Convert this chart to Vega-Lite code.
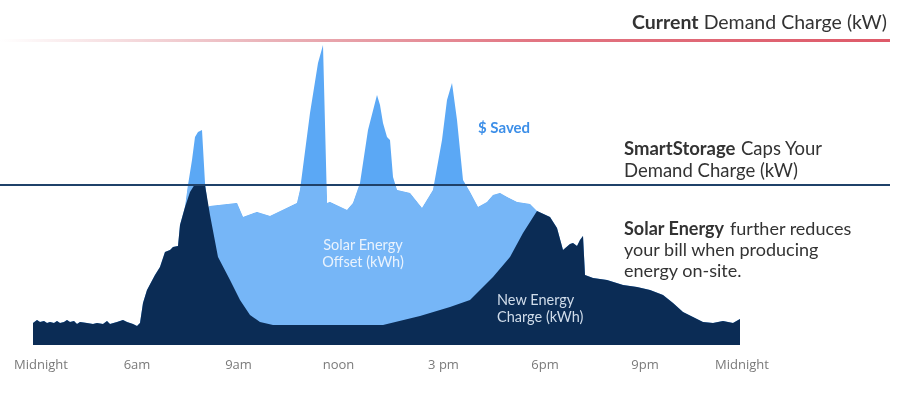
{
  "$schema": "https://vega.github.io/schema/vega-lite/v6.json",
  "width": 903,
  "height": 397,
  "padding": 0,
  "autosize": "none",
  "background": "white",
  "config": {"view": {"stroke": null}},
  "datasets": {
    "net": [
      {"t":0.33,"kw":22},{"t":0.37,"kw":25},{"t":0.40,"kw":23},{"t":0.44,"kw":24},{"t":0.47,"kw":22},{"t":0.50,"kw":23},{"t":0.54,"kw":22},{"t":0.57,"kw":24},{"t":0.60,"kw":22},{"t":0.64,"kw":23},{"t":0.67,"kw":25},{"t":0.70,"kw":23},{"t":0.74,"kw":24},{"t":0.77,"kw":21},{"t":0.80,"kw":23},{"t":0.87,"kw":22},{"t":0.93,"kw":21},{"t":0.97,"kw":22},{"t":1.03,"kw":21},{"t":1.07,"kw":24},{"t":1.10,"kw":21},{"t":1.17,"kw":23},{"t":1.23,"kw":25},{"t":1.27,"kw":23},{"t":1.33,"kw":21},{"t":1.37,"kw":19},{"t":1.40,"kw":22},{"t":1.43,"kw":42},{"t":1.47,"kw":55},{"t":1.55,"kw":70},{"t":1.60,"kw":78},{"t":1.65,"kw":93},{"t":1.70,"kw":95},{"t":1.73,"kw":98},{"t":1.78,"kw":99},{"t":1.80,"kw":120},{"t":1.85,"kw":138},{"t":1.90,"kw":153},{"t":1.95,"kw":161},{"t":2.00,"kw":161},{"t":2.05,"kw":160},{"t":2.10,"kw":130},{"t":2.18,"kw":88},{"t":2.30,"kw":65},{"t":2.40,"kw":45},{"t":2.50,"kw":30},{"t":2.60,"kw":23},{"t":2.73,"kw":20},{"t":3.00,"kw":20},{"t":3.83,"kw":20},{"t":4.20,"kw":29},{"t":4.50,"kw":38},{"t":4.70,"kw":45},{"t":4.93,"kw":68},{"t":5.10,"kw":88},{"t":5.23,"kw":112},{"t":5.37,"kw":134},{"t":5.50,"kw":128},{"t":5.57,"kw":117},{"t":5.63,"kw":95},{"t":5.70,"kw":101},{"t":5.73,"kw":102},{"t":5.77,"kw":99},{"t":5.80,"kw":105},{"t":5.83,"kw":109},{"t":5.85,"kw":70},{"t":5.93,"kw":67},{"t":6.07,"kw":65},{"t":6.23,"kw":60},{"t":6.37,"kw":58},{"t":6.50,"kw":55},{"t":6.63,"kw":50},{"t":6.73,"kw":42},{"t":6.83,"kw":33},{"t":6.93,"kw":28},{"t":7.03,"kw":23},{"t":7.13,"kw":22},{"t":7.23,"kw":24},{"t":7.33,"kw":22},{"t":7.40,"kw":26}
    ],
    "total": [
      {"t":0.33,"kw":22},{"t":0.37,"kw":25},{"t":0.40,"kw":23},{"t":0.44,"kw":24},{"t":0.47,"kw":22},{"t":0.50,"kw":23},{"t":0.54,"kw":22},{"t":0.57,"kw":24},{"t":0.60,"kw":22},{"t":0.64,"kw":23},{"t":0.67,"kw":25},{"t":0.70,"kw":23},{"t":0.74,"kw":24},{"t":0.77,"kw":21},{"t":0.80,"kw":23},{"t":0.87,"kw":22},{"t":0.93,"kw":21},{"t":0.97,"kw":22},{"t":1.03,"kw":21},{"t":1.07,"kw":24},{"t":1.10,"kw":21},{"t":1.17,"kw":23},{"t":1.23,"kw":25},{"t":1.27,"kw":23},{"t":1.33,"kw":21},{"t":1.37,"kw":19},{"t":1.40,"kw":22},{"t":1.43,"kw":42},{"t":1.47,"kw":55},{"t":1.55,"kw":70},{"t":1.60,"kw":78},{"t":1.65,"kw":93},{"t":1.70,"kw":95},{"t":1.73,"kw":98},{"t":1.78,"kw":99},{"t":1.80,"kw":120},{"t":1.85,"kw":138},
      {"t":1.88,"kw":160},{"t":1.92,"kw":185},{"t":1.95,"kw":208},{"t":1.98,"kw":213},{"t":2.02,"kw":215},{"t":2.05,"kw":162},{"t":2.08,"kw":138},{"t":2.10,"kw":139},{"t":2.37,"kw":142},{"t":2.43,"kw":128},{"t":2.57,"kw":133},{"t":2.70,"kw":129},{"t":2.97,"kw":142},{"t":3.00,"kw":155},{"t":3.10,"kw":232},{"t":3.18,"kw":282},{"t":3.23,"kw":300},{"t":3.27,"kw":142},{"t":3.30,"kw":143},{"t":3.47,"kw":135},{"t":3.53,"kw":142},{"t":3.60,"kw":162},{"t":3.68,"kw":215},{"t":3.77,"kw":250},{"t":3.80,"kw":240},{"t":3.83,"kw":222},{"t":3.87,"kw":208},{"t":3.90,"kw":205},{"t":3.93,"kw":168},{"t":3.97,"kw":155},{"t":4.10,"kw":152},{"t":4.22,"kw":137},{"t":4.33,"kw":155},{"t":4.42,"kw":205},{"t":4.47,"kw":245},{"t":4.52,"kw":262},{"t":4.57,"kw":225},{"t":4.63,"kw":165},{"t":4.70,"kw":153},{"t":4.78,"kw":138},{"t":4.87,"kw":143},{"t":4.93,"kw":150},{"t":5.00,"kw":152},{"t":5.07,"kw":148},{"t":5.17,"kw":143},{"t":5.30,"kw":141},{"t":5.37,"kw":134},
      {"t":5.50,"kw":128},{"t":5.57,"kw":117},{"t":5.63,"kw":95},{"t":5.70,"kw":101},{"t":5.73,"kw":102},{"t":5.77,"kw":99},{"t":5.80,"kw":105},{"t":5.83,"kw":109},{"t":5.85,"kw":70},{"t":5.93,"kw":67},{"t":6.07,"kw":65},{"t":6.23,"kw":60},{"t":6.37,"kw":58},{"t":6.50,"kw":55},{"t":6.63,"kw":50},{"t":6.73,"kw":42},{"t":6.83,"kw":33},{"t":6.93,"kw":28},{"t":7.03,"kw":23},{"t":7.13,"kw":22},{"t":7.23,"kw":24},{"t":7.33,"kw":22},{"t":7.40,"kw":26}
    ],
    "ticks": [
      {"t":0.41,"label":"Midnight"},{"t":1.37,"label":"6am"},{"t":2.385,"label":"9am"},{"t":3.385,"label":"noon"},{"t":4.435,"label":"3 pm"},{"t":5.45,"label":"6pm"},{"t":6.45,"label":"9pm"},{"t":7.42,"label":"Midnight"}
    ]
  },
  "layer": [
    {
      "data": {"name": "total"},
      "mark": {"type": "area", "color": "#5ba8f5", "interpolate": "linear"},
      "encoding": {
        "x": {"field": "t", "type": "quantitative", "scale": {"domain": [0, 9.03], "nice": false, "zero": false}, "axis": null},
        "y": {"field": "kw", "type": "quantitative", "scale": {"domain": [-52, 345], "nice": false, "zero": false}, "axis": null}
      }
    },
    {
      "data": {"values": [{}]},
      "mark": {"type": "rect", "fill": "#76b6f7", "blend": "lighten"},
      "encoding": {
        "x": {"datum": 0}, "x2": {"datum": 8.9},
        "y": {"datum": 0}, "y2": {"datum": 160}
      }
    },
    {
      "data": {"name": "net"},
      "mark": {"type": "area", "color": "#0b2c55", "interpolate": "linear"},
      "encoding": {
        "x": {"field": "t", "type": "quantitative"},
        "y": {"field": "kw", "type": "quantitative"}
      }
    },
    {
      "data": {"values": [{}]},
      "mark": {"type": "rect", "fill": {"gradient": "linear", "stops": [{"offset": 0, "color": "#ffffff"}, {"offset": 0.3, "color": "#eab3b9"}, {"offset": 0.6, "color": "#e27582"}, {"offset": 1, "color": "#de5a69"}]}},
      "encoding": {
        "x": {"datum": 0}, "x2": {"datum": 8.9},
        "y": {"datum": 306}, "y2": {"datum": 303}
      }
    },
    {
      "data": {"values": [{}]},
      "mark": {"type": "rule", "color": "#1f4169", "strokeWidth": 2},
      "encoding": {
        "x": {"datum": 0}, "x2": {"datum": 8.9},
        "y": {"datum": 160}
      }
    },
    {
      "data": {"name": "ticks"},
      "mark": {"type": "text", "font": "Open Sans", "fontSize": 13, "color": "#7a7a7a", "baseline": "middle", "align": "center"},
      "encoding": {
        "x": {"field": "t", "type": "quantitative"},
        "y": {"datum": -20},
        "text": {"field": "label"}
      }
    },
    {
      "data": {"values": [{}]},
      "mark": {"type": "text", "text": "$ Saved", "font": "Lato", "fontWeight": "bold", "fontSize": 15, "color": "#3d8fe8", "align": "left", "baseline": "middle"},
      "encoding": {"x": {"datum": 4.78}, "y": {"datum": 217}}
    },
    {
      "data": {"values": [{}]},
      "mark": {"type": "text", "text": ["Solar Energy", "Offset (kWh)"], "lineHeight": 17, "font": "Lato", "fontSize": 14.5, "color": "#eaf3fd", "align": "center", "baseline": "middle"},
      "encoding": {"x": {"datum": 3.63}, "y": {"datum": 99.5}}
    },
    {
      "data": {"values": [{}]},
      "mark": {"type": "text", "text": ["New Energy", "Charge (kWh)"], "lineHeight": 17, "font": "Lato", "fontSize": 14.5, "color": "#d0dcea", "align": "left", "baseline": "middle"},
      "encoding": {"x": {"datum": 4.97}, "y": {"datum": 44}}
    },
    {
      "data": {"values": [{}]},
      "mark": {"type": "text", "text": "Demand Charge (kW)", "font": "Lato", "fontSize": 19.5, "color": "#333333", "align": "right", "baseline": "middle"},
      "encoding": {"x": {"datum": 8.87}, "y": {"datum": 322}}
    },
    {
      "data": {"values": [{}]},
      "mark": {"type": "text", "text": "Current", "font": "Lato", "fontWeight": "bold", "fontSize": 19.5, "color": "#333333", "align": "left", "baseline": "middle"},
      "encoding": {"x": {"datum": 6.32}, "y": {"datum": 322}}
    },
    {
      "data": {"values": [{}]},
      "mark": {"type": "text", "text": "SmartStorage", "font": "Lato", "fontWeight": "bold", "fontSize": 18.5, "color": "#333333", "align": "left", "baseline": "middle"},
      "encoding": {"x": {"datum": 6.24}, "y": {"datum": 196}}
    },
    {
      "data": {"values": [{}]},
      "mark": {"type": "text", "text": "Caps Your", "font": "Lato", "fontSize": 18.5, "color": "#333333", "align": "left", "baseline": "middle"},
      "encoding": {"x": {"datum": 7.41}, "y": {"datum": 196}}
    },
    {
      "data": {"values": [{}]},
      "mark": {"type": "text", "text": "Demand Charge (kW)", "font": "Lato", "fontSize": 18.5, "color": "#333333", "align": "left", "baseline": "middle"},
      "encoding": {"x": {"datum": 6.24}, "y": {"datum": 174}}
    },
    {
      "data": {"values": [{}]},
      "mark": {"type": "text", "text": "Solar Energy", "font": "Lato", "fontWeight": "bold", "fontSize": 18, "color": "#333333", "align": "left", "baseline": "middle"},
      "encoding": {"x": {"datum": 6.24}, "y": {"datum": 115}}
    },
    {
      "data": {"values": [{}]},
      "mark": {"type": "text", "text": "further reduces", "font": "Lato", "fontSize": 18, "color": "#333333", "align": "left", "baseline": "middle"},
      "encoding": {"x": {"datum": 7.30}, "y": {"datum": 115}}
    },
    {
      "data": {"values": [{}]},
      "mark": {"type": "text", "text": "your bill when producing", "font": "Lato", "fontSize": 18, "color": "#333333", "align": "left", "baseline": "middle"},
      "encoding": {"x": {"datum": 6.24}, "y": {"datum": 94}}
    },
    {
      "data": {"values": [{}]},
      "mark": {"type": "text", "text": "energy on-site.", "font": "Lato", "fontSize": 18, "color": "#333333", "align": "left", "baseline": "middle"},
      "encoding": {"x": {"datum": 6.24}, "y": {"datum": 73}}
    }
  ]
}
